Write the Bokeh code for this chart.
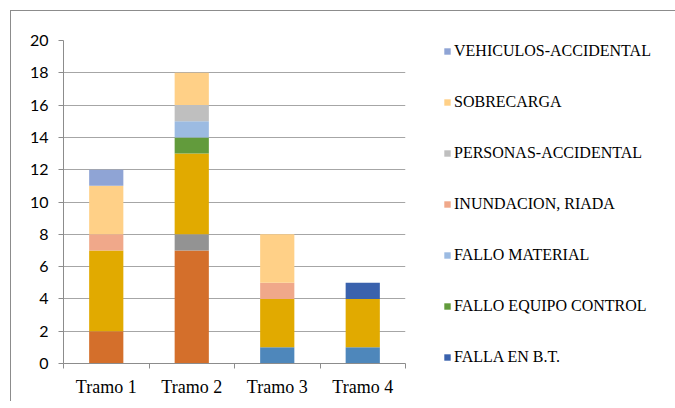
from bokeh.plotting import figure
from bokeh.models import Range1d, FixedTicker, Legend, LegendItem, ColumnDataSource
from bokeh.embed import file_html
from bokeh.resources import INLINE

categories = ["Tramo 1", "Tramo 2", "Tramo 3", "Tramo 4"]

# series, bottom to top of each stack
serie_naranja = [2, 7, 0, 0]
serie_azul_medio = [0, 0, 1, 1]
serie_gris_oscuro = [0, 1, 0, 0]
serie_dorada = [5, 5, 3, 3]
falla_bt = [0, 0, 0, 1]
fallo_equipo_control = [0, 1, 0, 0]
fallo_material = [0, 1, 0, 0]
inundacion_riada = [1, 0, 1, 0]
personas_accidental = [0, 1, 0, 0]
sobrecarga = [3, 2, 3, 0]
vehiculos_accidental = [1, 0, 0, 0]

series = [
    (None, serie_naranja, "#D46F2B"),
    (None, serie_azul_medio, "#4E87BB"),
    (None, serie_gris_oscuro, "#939393"),
    (None, serie_dorada, "#E1AA00"),
    ("FALLA EN B.T.", falla_bt, "#3A62AD"),
    ("FALLO EQUIPO CONTROL", fallo_equipo_control, "#629B3C"),
    ("FALLO MATERIAL", fallo_material, "#9CBBE2"),
    ("INUNDACION, RIADA", inundacion_riada, "#F0A88A"),
    ("PERSONAS-ACCIDENTAL", personas_accidental, "#BFBFBF"),
    ("SOBRECARGA", sobrecarga, "#FFD087"),
    ("VEHICULOS-ACCIDENTAL", vehiculos_accidental, "#8FA4D5"),
]

xpos = [i + 0.5 for i in range(len(categories))]
data = {"x": xpos}
keys = []
for i, (_, vals, _) in enumerate(series):
    k = "s%d" % i
    data[k] = vals
    keys.append(k)
source = ColumnDataSource(data)

p = figure(frame_width=342, frame_height=323, output_backend="svg", toolbar_location=None,
           x_range=Range1d(0, len(categories)), y_range=Range1d(0, 20),
           min_border_left=52, min_border_right=0, min_border_top=29, min_border_bottom=38)
p.margin = (10, 0, 0, 10)
p.styles = {"border-top": "1px solid #8c8c8c", "border-left": "1px solid #8c8c8c"}
p.outline_line_color = None

renderers = p.vbar_stack(keys, x="x", width=0.4, source=source,
                         color=[s[2] for s in series], line_color=None)

serif = "'Liberation Serif', 'Times New Roman', serif"

# axes
p.yaxis.ticker = FixedTicker(ticks=list(range(0, 21, 2)))
p.yaxis.axis_line_color = "#8c8c8c"
p.yaxis.major_tick_line_color = "#8c8c8c"
p.yaxis.major_tick_in = 0
p.yaxis.major_tick_out = 5
p.yaxis.minor_tick_line_color = None
p.yaxis.major_label_text_font = "Lato"
p.yaxis.major_label_text_font_size = "16px"
p.yaxis.major_label_text_color = "#000000"
p.yaxis.major_label_standoff = 10

p.xaxis.ticker = FixedTicker(ticks=xpos, minor_ticks=list(range(0, len(categories) + 1)))
p.xaxis.major_label_overrides = {x: c for x, c in zip(xpos, categories)}
p.xaxis.axis_line_color = "#8c8c8c"
p.xaxis.major_tick_line_color = None
p.xaxis.major_tick_in = 0
p.xaxis.major_tick_out = 0
p.xaxis.minor_tick_line_color = "#8c8c8c"
p.xaxis.minor_tick_in = 0
p.xaxis.minor_tick_out = 5
p.xaxis.major_label_text_font = serif
p.xaxis.major_label_text_font_size = "18px"
p.xaxis.major_label_text_color = "#000000"
p.xaxis.major_label_standoff = 8

p.xgrid.grid_line_color = None
p.ygrid.ticker = FixedTicker(ticks=list(range(0, 21, 2)))
p.ygrid.grid_line_color = "#a6a6a6"

items = []
for (name, _, _), r in zip(series, renderers):
    if name is not None:
        items.append(LegendItem(label=name, renderers=[r]))
items = items[::-1]

legend = Legend(items=items, location="top_left", orientation="vertical",
                padding=0, margin=0, spacing=33, label_height=16, glyph_height=8,
                glyph_width=8, label_standoff=3, border_line_color=None,
                background_fill_alpha=0, label_text_font=serif,
                label_text_font_size="16px", label_text_color="#000000")
legend.styles = {"margin-left": "38px", "margin-top": "2px"}
p.add_layout(legend, "right")

open("out.html", "w").write(file_html(p, INLINE))
